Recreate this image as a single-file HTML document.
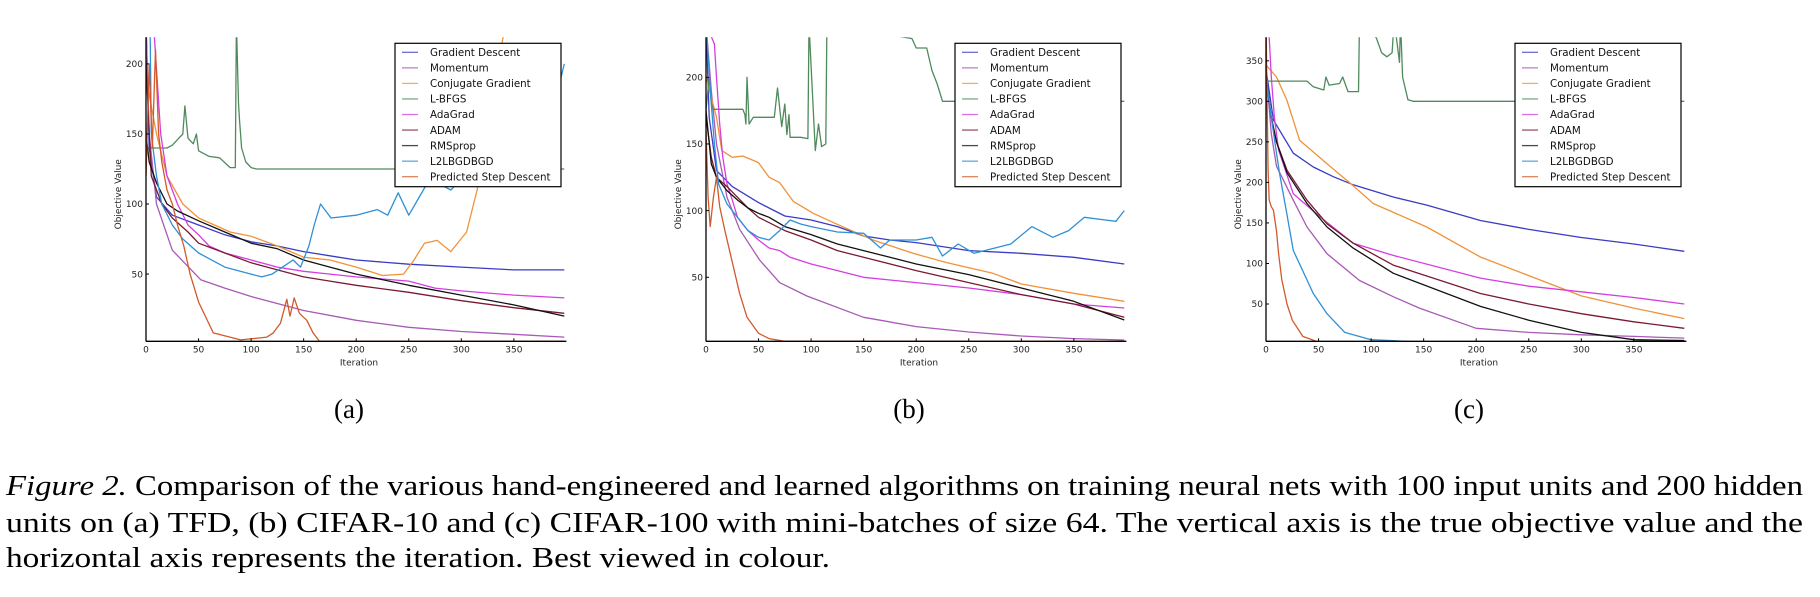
<!DOCTYPE html>
<html><head><meta charset="utf-8"><style>
html,body{margin:0;padding:0;background:#fff;}
svg{display:block;}
</style></head><body>
<svg id="fig" width="1820" height="597" viewBox="0 0 1820 597" xmlns="http://www.w3.org/2000/svg">
<g id="panels"></g>
<g font-family="Liberation Serif, serif" font-size="29" fill="#000">
<text x="6" y="495" textLength="1797" lengthAdjust="spacingAndGlyphs"><tspan font-style="italic">Figure 2.</tspan>  Comparison of the various hand-engineered and learned algorithms on training neural nets with 100 input units and 200 hidden</text>
<text x="6" y="532" textLength="1797" lengthAdjust="spacingAndGlyphs">units on (a) TFD, (b) CIFAR-10 and (c) CIFAR-100 with mini-batches of size 64.  The vertical axis is the true objective value and the</text>
<text x="6" y="567" textLength="824" lengthAdjust="spacingAndGlyphs">horizontal axis represents the iteration. Best viewed in colour.</text>
</g>
</svg>
<script>
const seriesNames = ["Gradient Descent","Momentum","Conjugate Gradient","L-BFGS","AdaGrad","ADAM","RMSprop","L2LBGDBGD","Predicted Step Descent"];
const seriesColors = ["#3b3bc4","#a85ab6","#f0923a","#4f8a5c","#d43ee0","#7a1a30","#111111","#2f90d6","#d2592b"];
const xTicks = [0,50,100,150,200,250,300,350];
const yTicksA = [50,100,150,200];
const yTicksB = [50,100,150,200];
const yTicksC = [50,100,150,200,250,300,350];

// Panel (a) TFD: each series = [iterations], [values]
const aIt = [
 [0,3,10,25,50,75,100,125,150,175,200,250,300,350,398],
 [0,3,10,25,52,75,100,150,200,250,300,350,398],
 [0,10,20,35,50,80,100,125,150,175,200,225,245,255,265,277,290,305,315,325,335,345],
 [0,20,25,30,35,37,40,45,48,50,60,70,80,85,86,88,89,91,95,100,105,398],
 [0,8,14,20,30,40,50,60,75,100,125,150,175,200,250,275,300,350,398],
 [0,5,15,25,40,50,75,100,125,150,175,200,250,300,350,398],
 [0,3,10,20,30,50,75,100,125,150,175,200,250,300,350,398],
 [0,4,5,10,15,25,35,50,75,100,110,120,130,140,147,155,160,166,176,200,220,230,240,250,260,270,290,300,320,350,370,385,398],
 [0,3,6,9,12,15,20,25,30,36,42,50,64,90,115,121,128,134,137,141,146,153,159,165,398]
];
const aVal = [
 [230,140,105,92,85,78,73,70,66,63,60,57,55,53,53],
 [230,150,100,67,46,40,34,24,17,12,9,7,5],
 [190,150,120,100,90,80,77,70,62,60,55,49,50,60,72,74,66,80,110,150,200,240],
 [140,140,142,146,150,170,147,143,150,138,134,133,126,126,230,172,160,140,130,126,125,125],
 [240,219,150,120,100,85,78,70,65,60,55,52,50,48,45,40,38,35,33],
 [200,120,100,90,80,72,65,58,53,48,45,42,37,31,26,22],
 [150,130,115,100,95,88,80,72,68,60,55,50,42,35,28,20],
 [240,219,150,120,100,85,75,65,55,50,48,50,55,60,55,70,85,100,90,92,96,92,108,92,105,118,110,118,120,140,150,160,200],
 [120,200,140,210,150,130,110,100,85,70,50,30,8,3,5,8,15,32,20,33,22,17,8,2,2]
];
// Panel (b) CIFAR-10
const bIt = [
 [0,3,10,25,50,75,100,125,150,175,200,250,300,350,398],
 [0,5,10,20,32,51,70,96,150,200,250,300,350,398],
 [0,10,15,25,35,50,60,70,83,102,127,159,197,229,273,300,350,398],
 [0,3,5,7,35,37,38,39,41,45,65,68,72,75,77,79,80,90,97,98,104,107,110,114,115,196,200,210,215,220,225,398],
 [0,8,10,13,16,20,25,30,40,50,60,70,80,100,125,150,175,200,250,300,350,398],
 [0,5,10,20,30,40,50,75,100,125,150,200,250,300,350,398],
 [0,5,10,20,30,40,50,60,75,100,125,150,175,200,250,300,350,398],
 [0,5,8,12,20,30,40,50,60,70,80,90,100,125,150,166,175,200,215,225,240,255,275,290,310,330,345,360,380,390,398],
 [0,2,4,7,10,13,18,23,32,39,50,60,75,398]
];
const bVal = [
 [240,170,130,118,106,96,93,88,81,78,76,70,68,65,60],
 [240,190,150,110,86,63,46,36,20,13,9,6,4,3],
 [200,170,145,140,141,136,125,121,107,98,89,78,68,61,53,45,38,32],
 [175,200,180,176,176,172,165,200,165,170,170,192,163,180,157,172,155,155,154,240,145,165,148,150,240,229,222,222,205,195,182,182],
 [240,225,200,165,140,120,108,95,85,78,72,70,65,60,55,50,48,46,42,37,30,27],
 [170,140,125,118,110,102,95,85,78,70,65,55,46,37,30,20],
 [175,135,125,115,108,102,98,95,88,82,75,70,65,60,52,42,32,18],
 [240,180,150,120,105,95,85,80,78,85,93,90,88,84,83,72,78,78,80,66,75,68,72,75,88,80,85,95,93,92,100],
 [160,110,88,110,125,103,85,68,38,20,8,4,2,2]
];
// Panel (c) CIFAR-100
const cIt = [
 [0,7,26,45,64,83,121,153,204,250,300,350,398],
 [0,5,10,26,39,58,89,121,146,200,250,300,350,398],
 [0,10,20,32,58,83,102,153,204,250,300,350,398],
 [0,1,39,45,55,57,60,70,73,78,88,89,105,110,115,120,122,127,128,130,135,140,398],
 [0,3,5,8,12,26,51,83,121,204,250,300,350,398],
 [0,5,10,20,39,58,83,121,204,250,300,350,398],
 [0,5,10,20,39,58,83,121,204,250,300,350,398],
 [0,5,10,13,20,26,45,58,75,100,150,398],
 [0,1,2,3,5,7,10,12,15,20,25,35,50,398]
];
const cVal = [
 [340,277,236,219,207,197,182,172,153,142,132,124,115],
 [340,260,220,178,145,112,79,59,45,20,15,12,10,8],
 [345,330,301,252,223,196,174,145,108,85,60,45,32],
 [320,325,325,318,314,330,320,322,330,312,312,400,378,360,355,360,400,348,400,330,302,300,300],
 [400,379,330,280,240,186,158,125,110,82,72,65,58,50],
 [330,280,250,215,178,149,125,98,63,50,38,28,20],
 [330,280,250,212,174,145,119,88,47,30,15,6,5],
 [330,280,236,210,160,116,63,38,15,6,3,3],
 [400,300,215,178,170,166,140,112,80,50,30,10,3,2]
];

const panelDefs = [
 {key:"a", label:"(a)", left:146, ymin:2, ymax:219, yTicks:yTicksA, its:aIt, vals:aVal},
 {key:"b", label:"(b)", left:706, ymin:2, ymax:230, yTicks:yTicksB, its:bIt, vals:bVal},
 {key:"c", label:"(c)", left:1266, ymin:4, ymax:379, yTicks:yTicksC, its:cIt, vals:cVal}
];
const NS = "http://www.w3.org/2000/svg";
const TOP = 37.3, BOT = 341.3, W = 420.4, XMAX = 400;
function mk(tag, attrs, parent){
  const e = document.createElementNS(NS, tag);
  for (const k in attrs) e.setAttribute(k, attrs[k]);
  if (parent) parent.appendChild(e);
  return e;
}
const root = document.getElementById("panels");
panelDefs.forEach(p => {
  const g = mk("g", {}, root);
  
  
  const xS = v => p.left + v / XMAX * W;
  const yS = v => BOT - (v - p.ymin) / (p.ymax - p.ymin) * (BOT - TOP);
  const clipId = "clip-" + p.key;
  const cp = mk("clipPath", {id: clipId}, g);
  mk("rect", {x: p.left, y: TOP, width: W, height: BOT - TOP}, cp);
  const lines = mk("g", {"clip-path": "url(#" + clipId + ")"}, g);
  
  
  p.its.forEach((its, si) => {
    const d = its.map((it, i) => (i ? "L" : "M") + xS(it).toFixed(1) + "," + yS(p.vals[si][i]).toFixed(1)).join(" ");
    const path = mk("path", {d: d, fill: "none", stroke: seriesColors[si], "stroke-width": 1.3, "stroke-linejoin": "round"}, lines);
    
    
  });
  const ax = mk("g", {stroke: "#000", "stroke-width": 1.3, fill: "none"}, g);
  
  
  mk("line", {x1: p.left, y1: TOP, x2: p.left, y2: BOT}, ax);
  mk("line", {x1: p.left, y1: BOT, x2: p.left + W, y2: BOT}, ax);
  const tg = mk("g", {"font-family": "DejaVu Sans, sans-serif", "font-size": 9, fill: "#222"}, g);
  xTicks.forEach(t => {
    mk("line", {x1: xS(t), y1: BOT, x2: xS(t), y2: BOT - 3, stroke: "#000", "stroke-width": 1}, g);
    const tx = mk("text", {x: xS(t), y: BOT + 11, "text-anchor": "middle"}, tg);
    tx.textContent = t;
    
    
  });
  p.yTicks.forEach(t => {
    mk("line", {x1: p.left, y1: yS(t), x2: p.left + 3, y2: yS(t), stroke: "#000", "stroke-width": 1}, g);
    const tx = mk("text", {x: p.left - 3, y: yS(t) + 3.2, "text-anchor": "end"}, tg);
    tx.textContent = t;
    
    
  });
  const xt = mk("text", {x: p.left + 213, y: BOT + 24, "text-anchor": "middle"}, tg);
  xt.textContent = "Iteration";
  
  
  const yt = mk("text", {x: 0, y: 0, "text-anchor": "middle", transform: "translate(" + (p.left - 25) + "," + ((TOP + BOT) / 2 + 5) + ") rotate(-90)"}, tg);
  yt.textContent = "Objective Value";
  
  
  const lg = mk("g", {}, g);
  
  
  const lx = p.left + 249;
  mk("rect", {x: lx, y: 43.3, width: 166, height: 143.4, fill: "#fff", stroke: "#000", "stroke-width": 1.2}, lg);
  seriesNames.forEach((n, i) => {
    const yy = 52.3 + i * 15.55;
    const ln = mk("line", {x1: lx + 7, y1: yy, x2: lx + 23, y2: yy, stroke: seriesColors[i], "stroke-width": 1.3, opacity: 0.75}, lg);
    
    
    const t = mk("text", {x: lx + 35, y: yy + 3.7, "font-family": "DejaVu Sans, sans-serif", "font-size": 10.3, fill: "#111"}, lg);
    t.textContent = n;
    
    
  });
  const pl = mk("text", {x: p.left + 203, y: 418, "text-anchor": "middle", "font-family": "Liberation Serif, serif", "font-size": 27, fill: "#000"}, g);
  pl.textContent = p.label;
  
  
});
</script>
</body></html>
